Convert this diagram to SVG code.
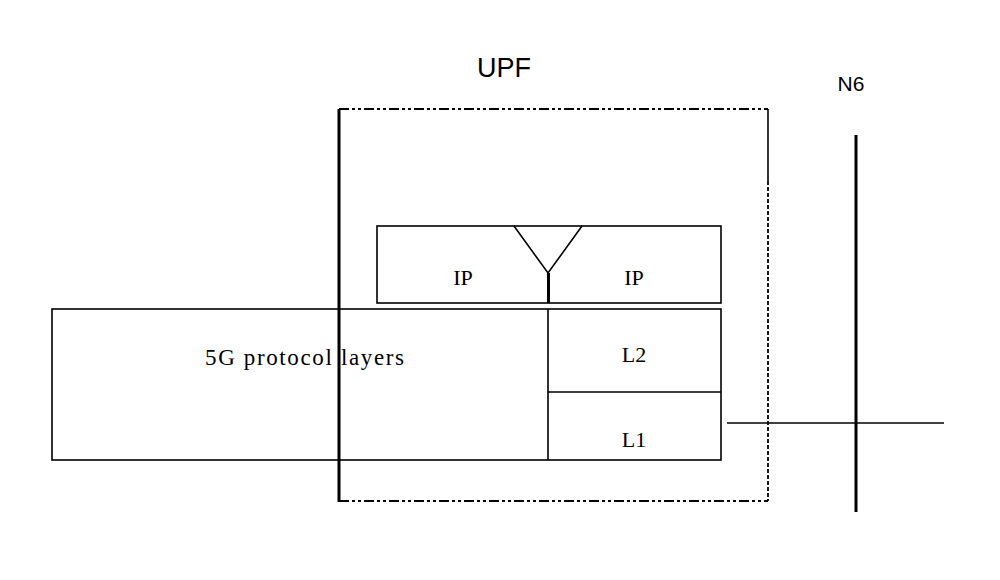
<svg xmlns="http://www.w3.org/2000/svg" width="1000" height="580" viewBox="0 0 1000 580">
<style>
.box{fill:none;stroke:#000;stroke-width:1.6}
.ln{stroke:#000;stroke-width:1.6;fill:none}
.thick{stroke:#000;stroke-width:3;fill:none}
.dd{stroke:#000;stroke-width:1.8;fill:none;stroke-dasharray:10 3 3 3 3 3}
.dash{stroke:#000;stroke-width:1.8;fill:none;stroke-dasharray:4 2}
.serif{font-family:"Liberation Serif","Times New Roman",serif;font-size:22px;fill:#000;text-anchor:middle}
.sans{font-family:"Liberation Sans",Arial,sans-serif;fill:#000;text-anchor:middle}
</style>
<rect width="1000" height="580" fill="#fff"/>
<g id="upf">
<path class="dd" d="M339 109 H768"/>
<path class="ln" d="M768 109 V181"/>
<path class="dash" d="M768 181 V501"/>
<path class="dd" d="M339 501 H768"/>
<text class="sans" x="504" y="77" font-size="27">UPF</text>
</g>
<g id="fiveg">
<rect class="box" x="52" y="309" width="669" height="151"/>
<text x="205" y="365" textLength="199" lengthAdjust="spacing" style="font-family:'Liberation Serif','Times New Roman',serif;font-size:23px;fill:#000">5G protocol layers</text>
</g>
<g id="ip">
<rect class="box" x="377" y="226" width="344" height="77"/>
<path class="ln" d="M514 226 L548 273 L582 226"/>
<path class="thick" d="M548.5 273 V303"/>
<text class="serif" x="463" y="285">IP</text>
<text class="serif" x="634" y="285">IP</text>
</g>
<g id="l2">
<path class="ln" d="M548 309 V460 M548 392 H721"/>
<text class="serif" x="634" y="362">L2</text>
</g>
<g id="l1">
<text class="serif" x="634" y="447">L1</text>
</g>
<g id="connectors">
<path class="thick" d="M339 109 V502"/>
<path class="thick" d="M856 135 V512"/>
<path class="ln" d="M727 423 H944"/>
<text class="sans" x="851" y="91" font-size="21">N6</text>
</g>
</svg>
